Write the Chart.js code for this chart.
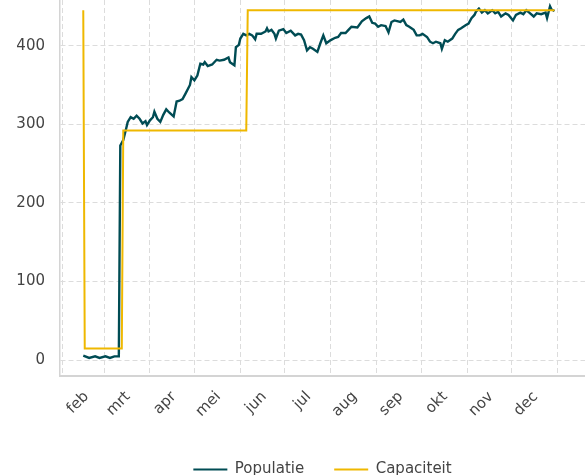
<!DOCTYPE html>
<html>
<head>
<meta charset="utf-8">
<script src="https://cdn.jsdelivr.net/npm/chart.js@4.4.1/dist/chart.umd.min.js"></script>
<style>
    html, body { margin: 0; padding: 0; background: #fff; }
</style>
</head>
<body>
<canvas id="myChart" width="585" height="475"></canvas>
<script>
// day of year (0 = 1 jan)
var popDays = [45, 49, 53, 56, 60, 63, 66, 69, 70, 72, 74, 75, 77, 79, 81, 83, 85, 87, 88, 90,
    92, 93, 95, 97, 99, 101, 103, 106, 108, 110, 112, 114, 117, 118, 120, 122, 124, 126, 127, 129,
    132, 135, 137, 140, 143, 144, 147, 148, 150, 151, 153, 155, 157, 159, 161, 162, 165, 168, 169, 170,
    172, 174, 175, 177, 180, 182, 185, 188, 190, 192, 194, 196, 198, 200, 203, 205, 207, 209, 212, 215,
    217, 219, 222, 224, 226, 230, 233, 236, 238, 240, 242, 244, 246, 249, 251, 253, 255, 259, 261, 263,
    265, 268, 270, 272, 274, 277, 279, 281, 283, 286, 287, 289, 291, 294, 296, 298, 300, 303, 305, 307,
    309, 310, 312, 314, 316, 318, 321, 323, 325, 327, 330, 332, 335, 337, 340, 342, 344, 346, 349, 351,
    354, 357, 358, 360, 361, 363];
var popValues = [6, 3, 5, 3, 5, 3, 5, 5, 273, 280, 295, 303, 309, 307, 311, 307, 301, 304, 299, 305,
    309, 316, 307, 303, 312, 319, 315, 310, 329, 330, 332, 339, 350, 360, 356, 362, 377, 376, 379, 374,
    376, 382, 381, 382, 385, 379, 375, 398, 401, 409, 415, 413, 415, 413, 408, 415, 415, 418, 422, 418,
    420, 415, 409, 419, 421, 416, 419, 413, 415, 414, 407, 394, 398, 396, 392, 403, 413, 403, 407, 410,
    411, 416, 416, 420, 424, 423, 431, 435, 437, 429, 428, 424, 426, 425, 417, 430, 432, 430, 433, 426,
    424, 420, 413, 413, 415, 411, 405, 403, 405, 403, 396, 407, 405, 409, 415, 420, 422, 426, 428, 435,
    439, 443, 447, 442, 445, 441, 445, 441, 443, 437, 441, 439, 432, 439, 442, 440, 445, 442, 437, 441,
    440, 442, 435, 450, 446, 444];

var capDays = [45, 46, 71, 72, 155, 156, 363];
var capValues = [445, 15, 15, 292, 292, 445, 445];

// month starts (day of year) and their labels
var monthDays = [31, 59, 90, 120, 151, 181, 212, 243, 273, 304, 334, 365];
var monthLabels = ['feb', 'mrt', 'apr', 'mei', 'jun', 'jul', 'aug', 'sep', 'okt', 'nov', 'dec', ''];
var yTicks = [0, 100, 200, 300, 400];

var font = { family: 'DejaVu Sans', size: 15 };
var textColor = '#444444';
var gridColor = '#dcdcdc';

function toPoints(xs, ys) {
    var pts = [];
    for (var i = 0; i < xs.length; i++) {
        pts.push({ x: xs[i], y: ys[i] });
    }
    return pts;
}

var chartData = {
    datasets: [{
        label: 'Populatie',
        data: toPoints(popDays, popValues),
        borderColor: '#004c54',
        backgroundColor: '#004c54',
        borderWidth: 2.4,
        pointRadius: 0,
        tension: 0,
        order: 1
    }, {
        label: 'Capaciteit',
        data: toPoints(capDays, capValues),
        borderColor: '#efb800',
        backgroundColor: '#efb800',
        borderWidth: 2,
        pointRadius: 0,
        tension: 0,
        order: 0
    }]
};

var ctx = document.getElementById('myChart').getContext('2d');

// legend is 55px high with its row 17.5px above its bottom; push it a bit below the canvas edge
window.myChartInstance = new Chart(ctx, {
    type: 'line',
    data: chartData,
    options: {
        responsive: false,
        animation: false,
        devicePixelRatio: 1,
        layout: { padding: { left: 0, right: 0, top: 0, bottom: -12 } },
        plugins: {
            tooltip: { enabled: false },
            legend: {
                position: 'bottom',
                fullSize: false,
                labels: {
                    boxWidth: 34,
                    boxHeight: 2,
                    padding: 30,
                    color: textColor,
                    font: font,
                    sort: function (a, b) { return a.datasetIndex - b.datasetIndex; },
                    generateLabels: function (chart) {
                        var items = Chart.defaults.plugins.legend.labels.generateLabels(chart);
                        items.forEach(function (it) {
                            it.fillStyle = it.strokeStyle;
                            it.lineWidth = 0;
                        });
                        return items;
                    }
                }
            }
        },
        scales: {
            x: {
                type: 'linear',
                min: 29.3,
                max: 383.6,
                afterBuildTicks: function (scale) {
                    scale.ticks = monthDays.map(function (v) { return { value: v }; });
                },
                afterFit: function (scale) {
                    scale.height = 56;
                    scale.paddingLeft = 0;
                    scale.paddingRight = 0;
                    scale.paddingTop = 0;
                    scale.paddingBottom = 0;
                },
                ticks: {
                    autoSkip: false,
                    minRotation: 45,
                    maxRotation: 45,
                    labelOffset: 24,
                    padding: 12,
                    color: textColor,
                    font: font,
                    callback: function (value, index) { return monthLabels[index]; }
                },
                grid: { color: gridColor, lineWidth: 1, drawTicks: false },
                border: { display: true, color: '#d4d4d4', width: 2, dash: [5, 3] }
            },
            y: {
                min: -20,
                max: 458,
                afterBuildTicks: function (scale) {
                    scale.ticks = yTicks.map(function (v) { return { value: v }; });
                },
                afterFit: function (scale) {
                    scale.width = 60;
                    scale.paddingTop = 0;
                    scale.paddingBottom = 0;
                    scale.paddingLeft = 0;
                    scale.paddingRight = 0;
                },
                ticks: {
                    padding: 15,
                    color: textColor,
                    font: font
                },
                grid: { color: gridColor, lineWidth: 1, drawTicks: false },
                border: { display: true, color: '#d4d4d4', width: 1.5, dash: [5, 3] }
            }
        }
    }
});
</script>
</body>
</html>
